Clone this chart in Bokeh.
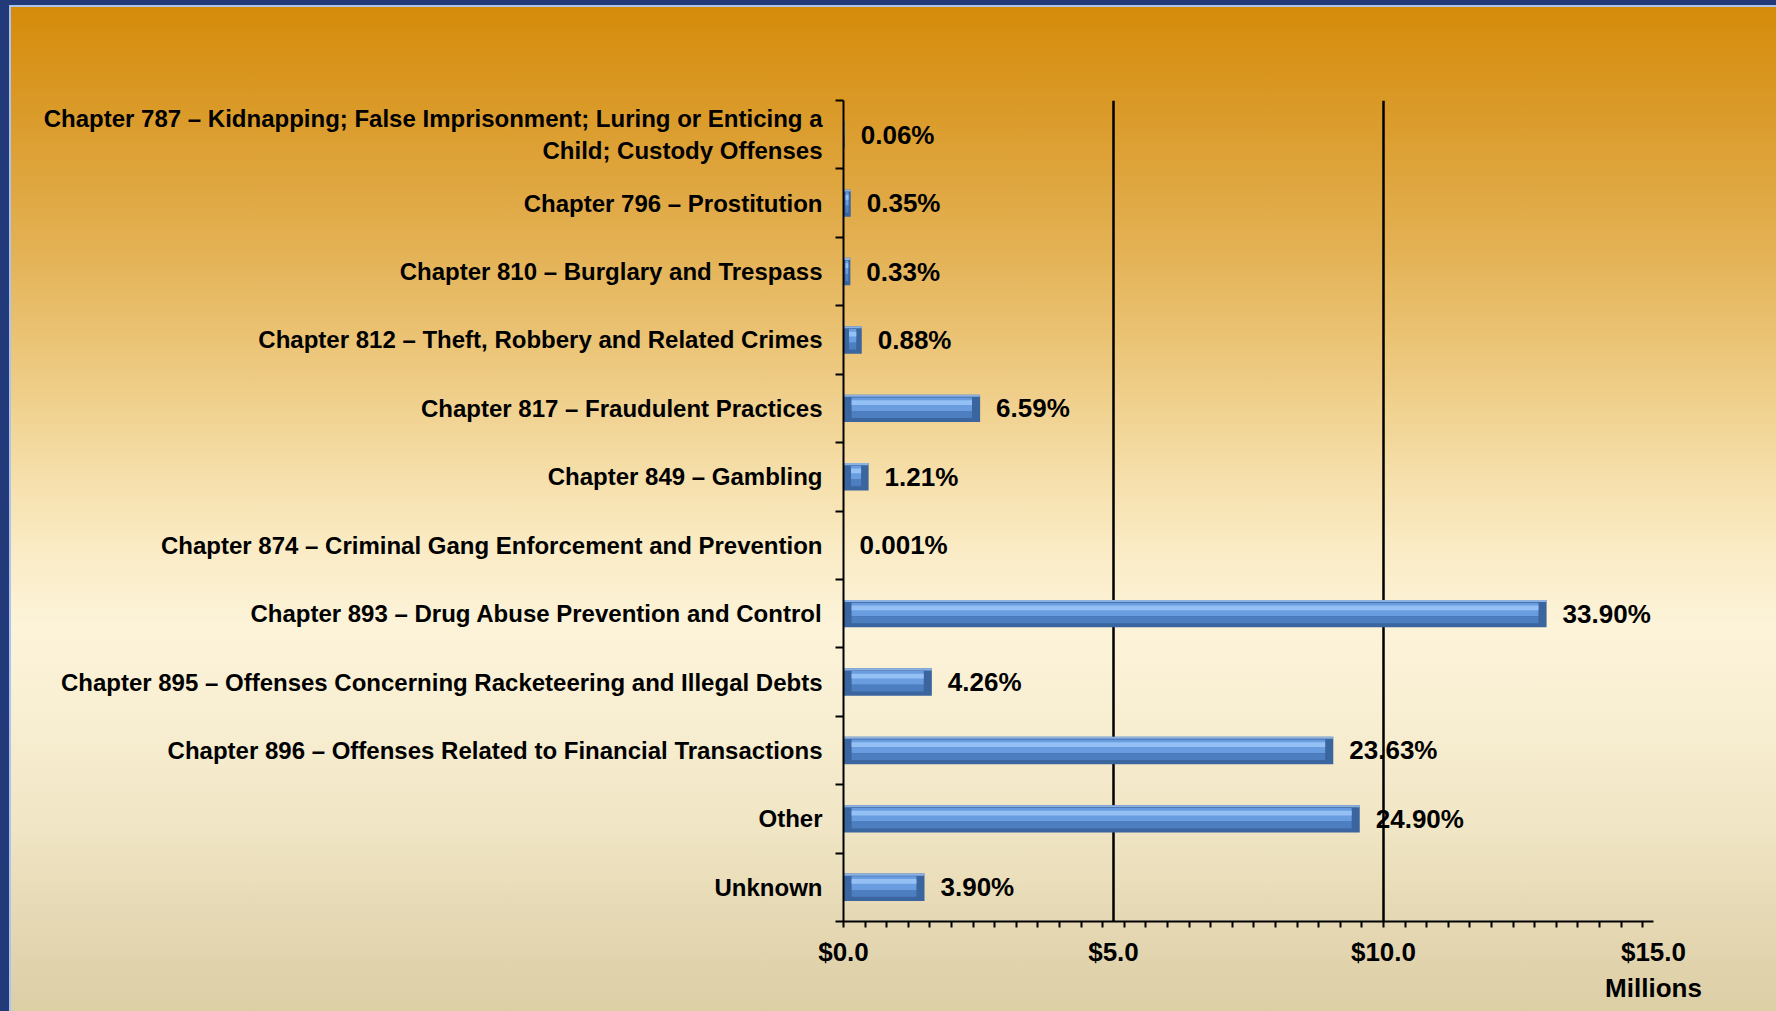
from bokeh.plotting import figure
from bokeh.models import Range1d, FixedTicker, LinearAxis
from bokeh.core.properties import value
from bokeh.embed import file_html
from bokeh.resources import INLINE

categories = [
    "Chapter 787 \u2013 Kidnapping; False Imprisonment; Luring or Enticing a\nChild; Custody Offenses",
    "Chapter 796 \u2013 Prostitution",
    "Chapter 810 \u2013 Burglary and Trespass",
    "Chapter 812 \u2013 Theft, Robbery and Related Crimes",
    "Chapter 817 \u2013 Fraudulent Practices",
    "Chapter 849 \u2013 Gambling",
    "Chapter 874 \u2013 Criminal Gang Enforcement and Prevention",
    "Chapter 893 \u2013 Drug Abuse Prevention and Control",
    "Chapter 895 \u2013 Offenses Concerning Racketeering and Illegal Debts",
    "Chapter 896 \u2013 Offenses Related to Financial Transactions",
    "Other",
    "Unknown",
]
values_millions = [0.023, 0.134, 0.127, 0.338, 2.53, 0.465, 0.0004, 13.02, 1.636, 9.07, 9.56, 1.50]
pct_labels = ["0.06%", "0.35%", "0.33%", "0.88%", "6.59%", "1.21%", "0.001%",
              "33.90%", "4.26%", "23.63%", "24.90%", "3.90%"]
x_tick_values = [0, 5, 10, 15]
x_tick_labels = ["$0.0", "$5.0", "$10.0", "$15.0"]
x_unit_label = "Millions"

n = len(categories)
ys = list(range(n))
FONT = value("Liberation Sans")

p = figure(width=1776, height=1011, output_backend="svg", toolbar_location=None,
           x_range=Range1d(0, 15), y_range=Range1d(n - 0.5, -0.5),
           min_border_left=843, min_border_right=123, min_border_top=100, min_border_bottom=90)

p.background_fill_alpha = 0
p.border_fill_alpha = 0
p.outline_line_color = None
p.styles = {
    "background": "linear-gradient(to bottom, #D58A08 0%, #DB9C2C 12%, #E3B052 24%, #EBC476 34%, "
                  "#F4DBA2 45%, #FAEBC4 54%, #FCF3D9 62%, #F9EFD3 70%, #F0E5C4 82%, #E4D7B2 92%, #DCCEA5 100%)",
    "box-shadow": "inset 9px 5px 0 0 #22397A, inset 11px 7px 0 0 #A9C4EE",
}

# bars: layered to imitate the bevelled 3D look
inset = [min(0.15, v * 0.3) for v in values_millions]
inner_l = inset
inner_r = [v - i for v, i in zip(values_millions, inset)]
p.hbar(y=ys, left=0, right=values_millions, height=0.40, fill_color="#3A659E", line_color=None)
p.hbar(y=[y - 0.185 for y in ys], left=0, right=values_millions, height=0.03,
       fill_color="#8DB2E2", line_color=None)
p.hbar(y=[y - 0.06 for y in ys], left=inner_l, right=inner_r, height=0.20,
       fill_color="#6A9CE0", line_color=None)
p.hbar(y=[y + 0.09 for y in ys], left=inner_l, right=inner_r, height=0.10,
       fill_color="#4D7EC0", line_color=None)
p.hbar(y=[y - 0.085 for y in ys], left=inner_l, right=inner_r, height=0.07,
       fill_color="#94C0F4", line_color=None)

p.text(x=values_millions, y=ys, text=pct_labels, x_offset=16,
       text_align="left", text_baseline="middle", text_font=FONT,
       text_font_style="bold", text_font_size="26px", text_color="black")

# y axis
p.yaxis.ticker = FixedTicker(ticks=ys, minor_ticks=[i - 0.5 for i in range(n + 1)])
p.yaxis.major_label_overrides = {y: c for y, c in zip(ys, categories)}
p.yaxis.major_tick_out = 0
p.yaxis.major_tick_in = 0
p.yaxis.minor_tick_out = 8
p.yaxis.minor_tick_in = 0
p.yaxis.minor_tick_line_width = 2
p.yaxis.minor_tick_line_color = "black"
p.yaxis.axis_line_width = 2
p.yaxis.axis_line_color = "black"
p.yaxis.major_label_standoff = 13
p.yaxis.major_label_text_font = "Liberation Sans"
p.yaxis.major_label_text_font_style = "bold"
p.yaxis.major_label_text_font_size = "24px"
p.yaxis.major_label_text_color = "black"

# x axis
p.xaxis.ticker = FixedTicker(ticks=x_tick_values, minor_ticks=[0.4 * k for k in range(38)])
p.xaxis.major_label_overrides = {t: l for t, l in zip(x_tick_values, x_tick_labels)}
p.xaxis.major_tick_out = 0
p.xaxis.major_tick_in = 0
p.xaxis.minor_tick_out = 6
p.xaxis.minor_tick_in = 0
p.xaxis.minor_tick_line_width = 2
p.xaxis.minor_tick_line_color = "black"
p.xaxis.axis_line_width = 2
p.xaxis.axis_line_color = "black"
p.xaxis.major_label_standoff = 9
p.xaxis.major_label_text_font = "Liberation Sans"
p.xaxis.major_label_text_font_style = "bold"
p.xaxis.major_label_text_font_size = "26px"
p.xaxis.major_label_text_color = "black"

# units caption under the last tick label
unit_axis = LinearAxis(ticker=FixedTicker(ticks=[x_tick_values[-1]], minor_ticks=[]),
                       major_label_overrides={x_tick_values[-1]: x_unit_label})
unit_axis.axis_line_color = None
unit_axis.major_tick_line_color = None
unit_axis.minor_tick_line_color = None
unit_axis.major_tick_out = 0
unit_axis.major_label_standoff = 3
unit_axis.major_label_text_font = "Liberation Sans"
unit_axis.major_label_text_font_style = "bold"
unit_axis.major_label_text_font_size = "26px"
unit_axis.major_label_text_color = "black"
p.add_layout(unit_axis, "below")

p.xgrid.grid_line_color = "black"
p.xgrid.grid_line_width = 2.5
p.ygrid.grid_line_color = None

open("out.html", "w").write(file_html(p, INLINE))
